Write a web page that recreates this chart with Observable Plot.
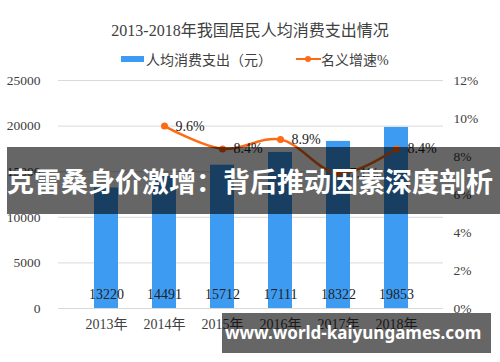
<!DOCTYPE html>
<html>
<head>
<meta charset="utf-8">
<script src="https://cdn.jsdelivr.net/npm/d3@7"></script>
<script src="https://cdn.jsdelivr.net/npm/@observablehq/plot@0.6"></script>
<style>
  body { margin: 0; background: #fff; }
  #wrap { position: relative; width: 500px; height: 362px; overflow: hidden; font-family: "Liberation Serif", "Noto Sans CJK SC", serif; }
  #title { position: absolute; left: 0; width: 500px; top: 17px; text-align: center; font-size: 16px; color: #404040; }
  #legend { position: absolute; top: 49px; left: 121px; font-size: 14px; color: #404040; white-space: nowrap; }
  #legend span { display: inline-block; vertical-align: middle; }
  .sw-bar { width: 23px; height: 6px; background: #3d9cf2; margin-right: 2px; }
  .sw-line { width: 25px; height: 10px; position: relative; margin-left: 24px; }
  .sw-line::before { content: ""; position: absolute; left: 0; right: 0; top: 4px; height: 2px; background: #ff6a14; }
  .sw-line::after { content: ""; position: absolute; left: 9px; top: 2px; width: 6px; height: 6px; border-radius: 3px; background: #ff6a14; }
  #chart { position: absolute; left: 0; top: 0; }
  .banner { position: absolute; background: rgba(0,0,0,0.6); color: #fff; font-family: "Noto Sans CJK SC", "Noto Sans", sans-serif; font-weight: bold; white-space: nowrap; }
  #b1 { left: 7px; top: 147px; width: 493px; height: 67px; font-size: 27px; line-height: 67px; }
  #b2 { left: 222px; top: 313px; width: 269px; height: 40px; font-size: 17px; line-height: 40px; font-family: "Noto Sans", sans-serif; padding-left: 3px; box-sizing: border-box; }
</style>
</head>
<body>
<div id="wrap">
  <div id="chart"></div>
  <div id="title"></div>
  <div id="legend"></div>
  <div class="banner" id="b1"></div>
  <div class="banner" id="b2"></div>
</div>
<script>
const years = ["2013年", "2014年", "2015年", "2016年", "2017年", "2018年"];
const spending = [13220, 14491, 15712, 17111, 18322, 19853];
const growthYears = ["2014年", "2015年", "2016年", "2017年", "2018年"];
const growth = [9.6, 8.4, 8.9, 7.1, 8.4];
const leftTicks = [0, 5000, 10000, 15000, 20000, 25000];
const rightTicks = [0, 2, 4, 6, 8, 10, 12];
const titleText = "2013-2018年我国居民人均消费支出情况";
const legendBar = "人均消费支出（元）";
const legendLine = "名义增速%";
const banner1 = "克雷桑身价激增：背后推动因素深度剖析";
const banner2 = "www.world-kaiyungames.com";

document.getElementById("title").textContent = titleText;
document.getElementById("legend").innerHTML =
  '<span class="sw-bar"></span><span>' + legendBar + '</span><span class="sw-line"></span><span>' + legendLine + '</span>';
document.getElementById("b1").textContent = banner1;
document.getElementById("b2").textContent = banner2;

const yMax = 25000, pMax = 12;
const k = yMax / pMax;
const bars = years.map((y, i) => ({year: y, value: spending[i]}));
const line = growthYears.map((y, i) => ({year: y, pct: growth[i], v: growth[i] * k}));

const chart = Plot.plot({
  width: 500,
  height: 362,
  marginTop: 80,
  marginBottom: 54,
  marginLeft: 58,
  marginRight: 57,
  style: {fontFamily: '"Liberation Serif", "Noto Sans CJK SC", serif', fontSize: "13.5px", color: "#404040", background: "transparent"},
  x: {domain: years, padding: 0.59, label: null},
  y: {domain: [0, yMax], label: null},
  marks: [
    Plot.gridY(leftTicks, {stroke: "#d9d9d9", strokeOpacity: 1}),
    Plot.axisY(leftTicks, {anchor: "left", tickSize: 0, tickPadding: 18, label: null, tickFormat: d => String(d), fontSize: 13.5, fill: "#404040"}),
    Plot.axisY(rightTicks.map(t => t * k), {anchor: "right", tickSize: 0, tickPadding: 10, label: null, tickFormat: d => Math.round(d / k) + "%", fontSize: 13.5, fill: "#404040"}),
    Plot.axisX({tickSize: 0, tickPadding: 11, label: null, fontSize: 14, fill: "#404040", fontFamily: '"Liberation Serif", "Noto Sans CJK SC", serif'}),
    Plot.barY(bars, {x: "year", y: "value", fill: "#3d9cf2"}),
    Plot.text(bars, {x: "year", y: 0, text: d => String(d.value), dy: -14, fill: "#222", fontSize: 14}),
    Plot.line(line, {x: "year", y: "v", stroke: "#ff6a14", strokeWidth: 2.5, curve: "catmull-rom"}),
    Plot.dot(line, {x: "year", y: "v", r: 3.5, fill: "#ff6a14"}),
    Plot.text(line, {x: "year", y: "v", text: d => d.pct.toFixed(1) + "%", textAnchor: "start", dx: 11, fill: "#222", fontSize: 14})
  ]
});
document.getElementById("chart").appendChild(chart);
</script>
</body>
</html>
